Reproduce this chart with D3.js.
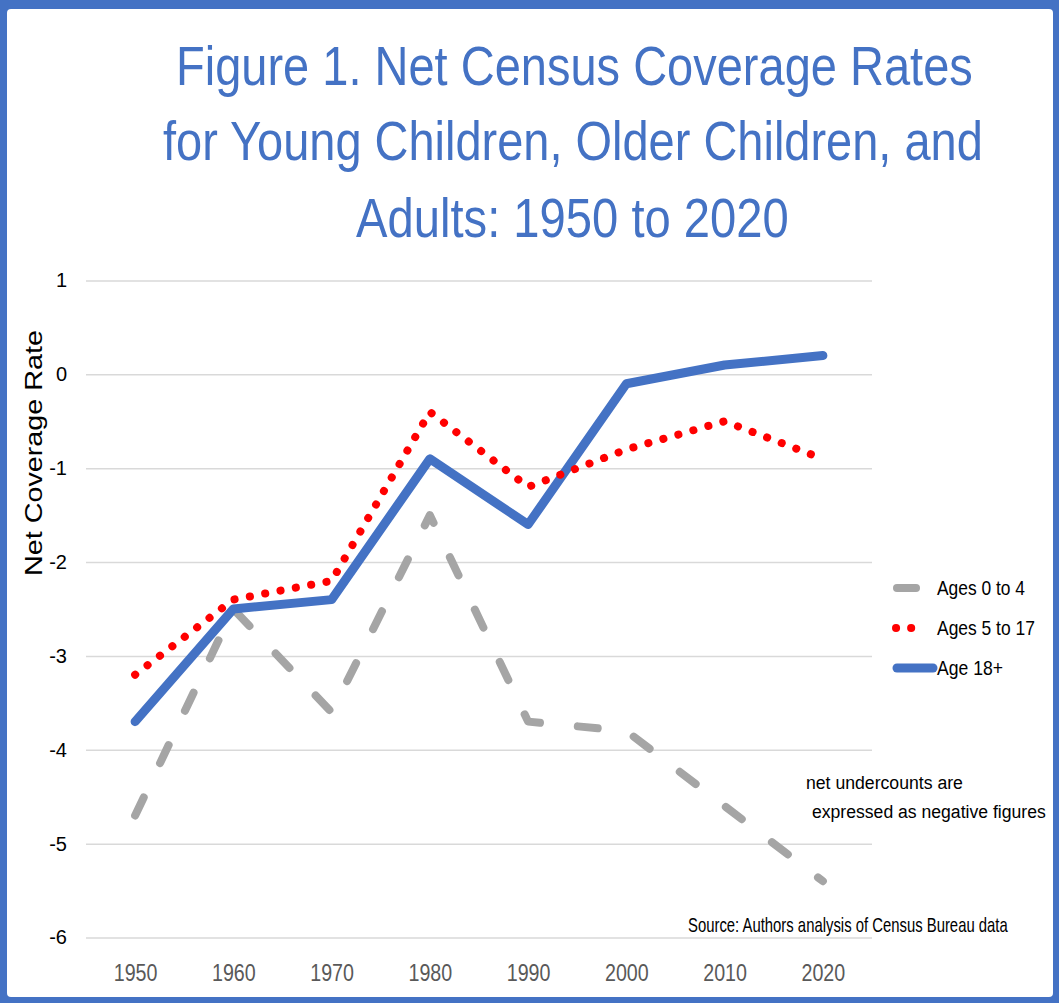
<!DOCTYPE html>
<html>
<head>
<meta charset="utf-8">
<script src="https://cdn.jsdelivr.net/npm/d3@7"></script>
<style>
  html, body { margin: 0; padding: 0; background: #ffffff; }
  svg { display: block; font-family: "Liberation Sans", Arial, Helvetica, sans-serif; }
</style>
</head>
<body>
<script>
// ---- data ----
const years = [1950, 1960, 1970, 1980, 1990, 2000, 2010, 2020];
const ages0to4 = [-4.7, -2.5, -3.6, -1.5, -3.7, -3.8, -4.6, -5.4];
const ages5to17 = [-3.2, -2.4, -2.2, -0.4, -1.2, -0.8, -0.5, -0.9];
const age18plus = [-3.7, -2.5, -2.4, -0.9, -1.6, -0.1, 0.1, 0.2];
const seriesNames = ["Ages 0 to 4", "Ages 5 to 17", "Age 18+"];
const yTicks = [1, 0, -1, -2, -3, -4, -5, -6];
const titleLines = [
  "Figure 1. Net Census Coverage Rates",
  "for Young Children, Older Children, and",
  "Adults: 1950 to 2020"
];

// ---- layout ----
const W = 1059, H = 1003;
const plot = { left: 86, right: 872, top: 280.5, bottom: 937.5 };
const blue = "#4472C4";

const svg = d3.select("body").append("svg")
  .attr("width", W).attr("height", H);

// Places a text so that it starts at (x, y) and is squeezed horizontally to width w.
function fitText(parent, str, x, y, w, size, fill) {
  const g = parent.append("g");
  const t = g.append("text").attr("x", 0).attr("y", 0)
    .attr("font-size", size).attr("fill", fill).text(str);
  const natural = t.node().getComputedTextLength();
  g.attr("transform", `translate(${x},${y}) scale(${w / natural},1)`);
  return g;
}

// frame
svg.append("rect").attr("x", 0).attr("y", 0).attr("width", W).attr("height", H).attr("fill", blue);
svg.append("rect").attr("x", 7).attr("y", 9).attr("width", 1053 - 7).attr("height", 997 - 9)
  .attr("rx", 4).attr("fill", "#ffffff");

// title
const titleGeom = [
  { x: 176, y: 85, w: 797 },
  { x: 163, y: 160, w: 820 },
  { x: 356, y: 237, w: 433 }
];
const titleG = svg.append("g");
titleLines.forEach((s, i) => fitText(titleG, s, titleGeom[i].x, titleGeom[i].y, titleGeom[i].w, 56, blue));

// scales
const x = d3.scalePoint().domain(years).range([plot.left, plot.right]).padding(0.5);
const y = d3.scaleLinear().domain([-6, 1]).range([plot.bottom, plot.top]);

// y axis with gridlines
const yAxis = svg.append("g")
  .attr("transform", `translate(${plot.left},0)`)
  .call(d3.axisLeft(y).tickValues(yTicks).tickFormat(d => String(d))
    .tickSize(-(plot.right - plot.left)).tickPadding(19));
yAxis.select(".domain").remove();
yAxis.selectAll(".tick line").attr("stroke", "#d9d9d9").attr("stroke-width", 1.5);
yAxis.selectAll(".tick text").attr("font-size", 20).attr("fill", "#000000")
  .attr("font-family", "'Liberation Sans', Arial, sans-serif");

// x axis labels, narrowed glyphs
const xAxis = svg.append("g")
  .attr("transform", `translate(0,${plot.bottom})`)
  .call(d3.axisBottom(x).tickSize(0).tickPadding(0));
xAxis.select(".domain").remove();
xAxis.selectAll(".tick text")
  .attr("y", 0).attr("dy", null)
  .attr("font-size", 24).attr("fill", "#595959")
  .attr("font-family", "'Liberation Sans', Arial, sans-serif")
  .attr("transform", "translate(0,43) scale(0.82,1)");

// y axis title
svg.append("text")
  .attr("transform", "translate(42,453) rotate(-90)")
  .attr("text-anchor", "middle")
  .attr("font-size", 23)
  .attr("textLength", 246).attr("lengthAdjust", "spacingAndGlyphs")
  .attr("fill", "#000000")
  .text("Net Coverage Rate");

// series styles
const styles = [
  { color: "#A5A5A5", width: 8, dash: "20 38", cap: "round" },
  { color: "#FF0000", width: 8, dash: "0.1 15.5", cap: "round" },
  { color: blue, width: 9, dash: null, cap: "round" }
];
const series = [ages0to4, ages5to17, age18plus];

const line = d3.line().x((d, i) => x(years[i])).y(d => y(d));

// drawing order: young children, adults, older children on top
const order = [0, 2, 1];
const lines = svg.append("g").attr("fill", "none");
order.forEach(k => {
  lines.append("path")
    .datum(series[k])
    .attr("d", line)
    .attr("stroke", styles[k].color)
    .attr("stroke-width", styles[k].width)
    .attr("stroke-linecap", styles[k].cap)
    .attr("stroke-linejoin", "round")
    .attr("stroke-dasharray", styles[k].dash);
});

// legend
const legendRows = [
  { y: 588, x1: 897, x2: 916, w: 88 },
  { y: 628, x1: 896, x2: 926, w: 98 },
  { y: 668, x1: 897, x2: 933, w: 66 }
];
const legend = svg.append("g");
seriesNames.forEach((name, k) => {
  const r = legendRows[k];
  legend.append("line")
    .attr("x1", r.x1).attr("x2", r.x2).attr("y1", r.y).attr("y2", r.y)
    .attr("stroke", styles[k].color)
    .attr("stroke-width", styles[k].width)
    .attr("stroke-linecap", "round")
    .attr("stroke-dasharray", k === 1 ? "0.1 15" : null);
  fitText(legend, name, 937, r.y + 7, r.w, 20, "#000000");
});

// note
const note = svg.append("g");
fitText(note, "net undercounts are", 806, 789, 157, 19, "#000000");
fitText(note, "expressed as negative figures", 812, 818, 234, 19, "#000000");

// source
fitText(svg, "Source:  Authors analysis of Census Bureau data", 688, 932, 320, 20, "#000000");
</script>
</body>
</html>
